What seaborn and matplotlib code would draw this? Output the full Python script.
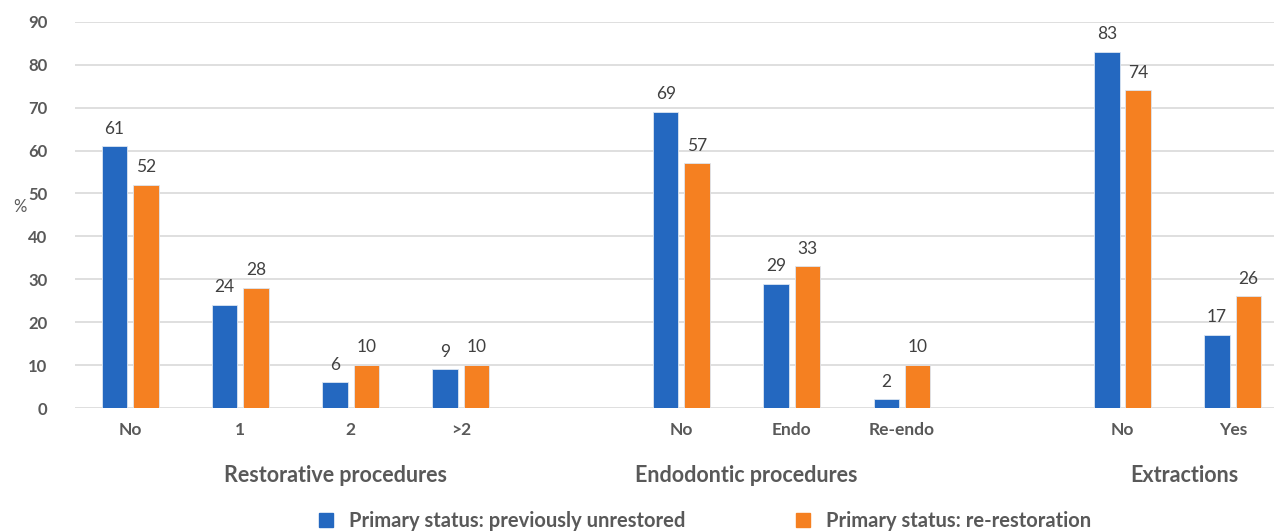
import pandas as pd
import numpy as np
import matplotlib.pyplot as plt
import seaborn as sns

# данные
positions = [0, 1, 2, 3, 5, 6, 7, 9, 10]
tick_labels = ['No', '1', '2', '>2', 'No', 'Endo', 'Re-endo', 'No', 'Yes']
unrestored = [61, 24, 6, 9, 69, 29, 2, 83, 17]
rerestoration = [52, 28, 10, 10, 57, 33, 10, 74, 26]
series_names = ['Primary status: previously unrestored', 'Primary status: re-restoration']
group_names = ['Restorative procedures', 'Endodontic procedures', 'Extractions']
group_x = [1.86, 5.59, 9.56]

df = pd.DataFrame({
    'pos': positions * 2,
    'value': unrestored + rerestoration,
    'series': [series_names[0]] * len(positions) + [series_names[1]] * len(positions),
})

sns.set_style('white')
plt.rcParams['font.family'] = ['Lato', 'DejaVu Sans']

fig = plt.figure(figsize=(12.77, 5.32), dpi=100)
ax = fig.add_axes([0.059, 0.233, 0.939, 0.726])

palette = {series_names[0]: '#2468C0', series_names[1]: '#F58021'}
sns.barplot(data=df, x='pos', y='value', hue='series', palette=palette,
            native_scale=True, width=0.57, gap=0.19, saturation=1, ax=ax,
            edgecolor='#dce6f2', linewidth=0.6, legend=False)

for cont in ax.containers:
    ax.bar_label(cont, fmt='%d', padding=7, fontsize=12.5, color='#404040')

ax.set_ylim(0, 90)
ax.set_yticks(range(0, 91, 10))
ax.set_xlim(-0.497, 10.378)
ax.set_xticks(positions)
ax.set_xticklabels(tick_labels)
ax.tick_params(axis='x', length=0, pad=10, labelsize=12.5, labelcolor='#595959')
ax.tick_params(axis='y', length=0, pad=20, labelsize=12, labelcolor='#595959')
for lab in ax.get_xticklabels() + ax.get_yticklabels():
    lab.set_fontweight('bold')

ax.yaxis.grid(True, color='#d9d9d9', linewidth=1.2)
ax.set_axisbelow(True)
for s in ax.spines.values():
    s.set_visible(False)
ax.set_xlabel('')
ax.set_ylabel('%', rotation=0, fontsize=12, color='#595959')
ax.yaxis.set_label_coords(-0.046, 0.5)

trans = ax.get_xaxis_transform()
for gx, name in zip(group_x, group_names):
    ax.text(gx, -0.175, name, transform=trans, ha='center', va='center',
            fontsize=15.5, fontweight='bold', color='#595959')

handles = [plt.Rectangle((0, 0), 1, 1, color=palette[n]) for n in series_names]
leg = fig.legend(handles, series_names, loc='center', bbox_to_anchor=(0.552, 0.02),
                 ncol=2, frameon=False, handlelength=0.7, handleheight=0.7,
                 columnspacing=5.5, prop={'size': 14.5, 'weight': 'bold'})
for t in leg.get_texts():
    t.set_color('#595959')

fig.savefig('out.png', dpi=100)
